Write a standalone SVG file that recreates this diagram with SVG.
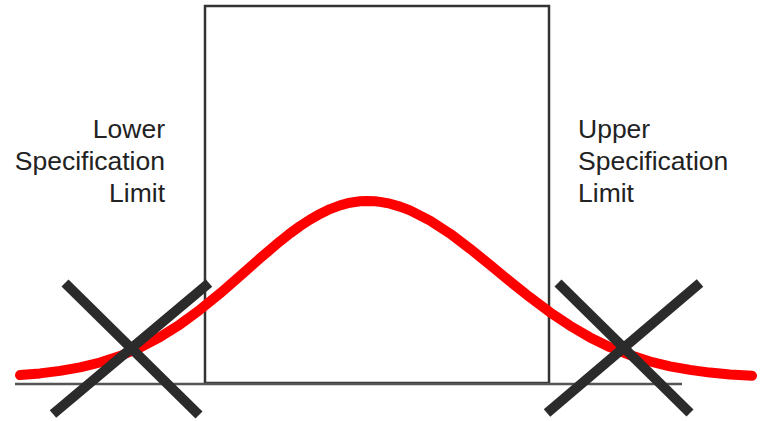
<svg xmlns="http://www.w3.org/2000/svg" width="761" height="421" viewBox="0 0 761 421">
<style>
.lbl{font-family:"Liberation Sans",Arial,sans-serif;font-size:26.5px;fill:#222}
.x{stroke:#2b2b2b;stroke-width:10;fill:none}
</style>
<rect width="761" height="421" fill="#fff"/>
<g id="spec-box"><rect x="205" y="6" width="344" height="377" fill="none" stroke="#333" stroke-width="2.5"/></g>
<g id="baseline"><line x1="15" y1="384" x2="682" y2="384" stroke="#555" stroke-width="2.5"/></g>
<g id="curve"><path d="M20,375.1 L40,373.4 L60,370.9 L80,367.4 L100,362.5 L120,356 L140,347.6 L160,337 L180,324.4 L200,309.7 L220,293.4 L240,276 L260,258.3 L280,241.3 L290,233.4 L300,226.1 L310,219.6 L320,213.9 L330,209.1 L340,205.4 L350,202.7 L360,201.3 L367,201 L375,201.3 L380,201.9 L390,203.7 L400,206.6 L410,210.4 L430,220.6 L450,233.6 L470,248.7 L490,264.9 L510,281.4 L530,297.3 L550,312.3 L570,325.7 L590,337.4 L610,347.2 L630,355.1 L650,361.5 L670,366.3 L690,369.9 L710,372.6 L730,374.4 L752,375.8" fill="none" stroke="#f00" stroke-width="10" stroke-linecap="round" stroke-linejoin="round"/></g>
<g id="lower-x"><line class="x" x1="65" y1="283" x2="199" y2="415"/><line class="x" x1="209" y1="283" x2="53" y2="414"/></g>
<g id="upper-x"><line class="x" x1="558" y1="283" x2="690" y2="413"/><line class="x" x1="700" y1="283" x2="547" y2="413"/></g>
<g id="lower-label"><text class="lbl" text-anchor="end"><tspan x="165" y="138">Lower</tspan><tspan x="165" y="170">Specification</tspan><tspan x="165" y="202">Limit</tspan></text></g>
<g id="upper-label"><text class="lbl"><tspan x="578" y="138">Upper</tspan><tspan x="578" y="170">Specification</tspan><tspan x="578" y="202">Limit</tspan></text></g>
</svg>
